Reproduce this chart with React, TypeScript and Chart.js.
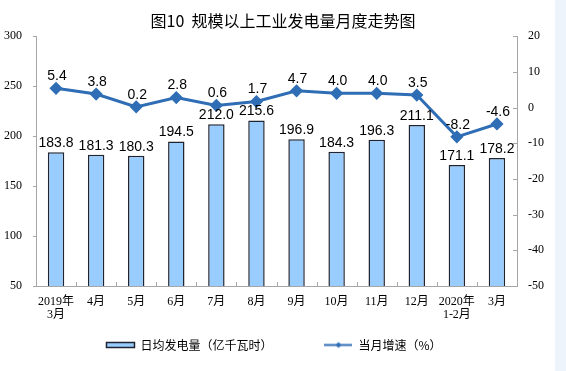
import React, { useEffect, useRef } from "react";
import { Chart, registerables } from "chart.js";

Chart.register(...registerables);

const categories: (string | string[])[] = [
  ["2019年", "3月"], "4月", "5月", "6月", "7月", "8月", "9月", "10月", "11月", "12月", ["2020年", "1-2月"], "3月",
];
const dailyOutput = [183.8, 181.3, 180.3, 194.5, 212.0, 215.6, 196.9, 184.3, 196.3, 211.1, 171.1, 178.2];
const monthlyGrowth = [5.4, 3.8, 0.2, 2.8, 0.6, 1.7, 4.7, 4.0, 4.0, 3.5, -8.2, -4.6];
const leftTicks = { min: 50, max: 300, step: 50 };
const rightTicks = { min: -50, max: 20, step: 10 };
const titleText = "图10  规模以上工业发电量月度走势图";
const seriesNames = ["日均发电量（亿千瓦时）", "当月增速（%）"];

const AXIS = "#a6a6a6";
const BAR_FILL = "#99ccff";
const BAR_BORDER = "#1f2430";
const LINE = "#2f6db5";
const SERIF = '"Liberation Serif", "Times New Roman", "Noto Sans CJK SC", serif';
const SANS_CJK = '"Noto Sans CJK SC", "Noto Sans", sans-serif';
const LABEL_FONT = '14px "Liberation Sans", Arial, sans-serif';

const valueLabels = {
  id: "valueLabels",
  afterDatasetsDraw(chart: any) {
    const ctx = chart.ctx;
    ctx.save();
    ctx.font = LABEL_FONT;
    ctx.fillStyle = "#000";
    ctx.textAlign = "center";
    ctx.textBaseline = "middle";
    chart.getDatasetMeta(0).data.forEach((el: any, i: number) => {
      const { x, y } = el.getProps(["x", "y"], true);
      ctx.fillText(dailyOutput[i].toFixed(1), x, y - 9);
    });
    chart.getDatasetMeta(1).data.forEach((el: any, i: number) => {
      const { x, y } = el.getProps(["x", "y"], true);
      ctx.fillText(monthlyGrowth[i].toFixed(1), x + 1, y - 12);
    });
    ctx.restore();
  },
};

const innerTicks = {
  id: "innerTicks",
  afterDraw(chart: any) {
    const { ctx, chartArea, scales } = chart;
    ctx.save();
    ctx.strokeStyle = AXIS;
    ctx.lineWidth = 1;
    const xs = scales.x;
    for (let i = 1; i < categories.length; i++) {
      const px = Math.round(xs.getPixelForValue(i - 0.5)) + 0.5;
      ctx.beginPath();
      ctx.moveTo(px, chartArea.bottom);
      ctx.lineTo(px, chartArea.bottom - 4);
      ctx.stroke();
    }
    scales.y1.ticks.forEach((t: any) => {
      const py = Math.round(scales.y1.getPixelForValue(t.value)) + 0.5;
      ctx.beginPath();
      ctx.moveTo(chartArea.right, py);
      ctx.lineTo(chartArea.right - 4, py);
      ctx.stroke();
    });
    scales.y.ticks.forEach((t: any) => {
      const py = Math.round(scales.y.getPixelForValue(t.value)) + 0.5;
      ctx.beginPath();
      ctx.moveTo(chartArea.left, py);
      ctx.lineTo(chartArea.left - 3, py);
      ctx.stroke();
    });
    ctx.restore();
  },
};

export default function App() {
  const ref = useRef<HTMLCanvasElement>(null);

  useEffect(() => {
    if (!ref.current) return;
    const icon = document.createElement("canvas");
    icon.width = 28;
    icon.height = 9;
    const ic = icon.getContext("2d")!;
    ic.strokeStyle = LINE;
    ic.lineWidth = 2;
    ic.beginPath();
    ic.moveTo(0, 4.5);
    ic.lineTo(28, 4.5);
    ic.stroke();
    ic.fillStyle = LINE;
    ic.beginPath();
    ic.moveTo(14, 1.5);
    ic.lineTo(17, 4.5);
    ic.lineTo(14, 7.5);
    ic.lineTo(11, 4.5);
    ic.closePath();
    ic.fill();

    const chart = new Chart(ref.current, {
      type: "bar",
      data: {
        labels: categories,
        datasets: [
          {
            type: "bar",
            label: seriesNames[0],
            data: dailyOutput,
            yAxisID: "y",
            backgroundColor: BAR_FILL,
            borderColor: BAR_BORDER,
            borderWidth: 1.5,
            barPercentage: 0.41,
            categoryPercentage: 1,
            order: 1,
          },
          {
            type: "line",
            label: seriesNames[1],
            data: monthlyGrowth,
            yAxisID: "y1",
            borderColor: LINE,
            backgroundColor: LINE,
            borderWidth: 3,
            pointStyle: "rectRot",
            pointRadius: 4.5,
            pointBackgroundColor: LINE,
            pointBorderColor: LINE,
            tension: 0,
            order: 0,
          } as any,
        ],
      },
      options: {
        responsive: false,
        animation: false,
        layout: { padding: { left: 0, right: 0, top: 0, bottom: 10 } },
        plugins: {
          title: {
            display: true,
            text: titleText,
            color: "#000",
            font: { size: 16, family: SANS_CJK, weight: "normal" },
            padding: { top: 11, bottom: 6 },
          },
          legend: {
            position: "bottom",
            labels: {
              usePointStyle: true,
              pointStyleWidth: 28,
              boxHeight: 5,
              padding: 10,
              color: "#000",
              font: { size: 12, family: SANS_CJK },
              generateLabels: () => [
                {
                  text: seriesNames[0] + "\u3000\u3000\u3000\u3000",
                  fillStyle: BAR_FILL,
                  strokeStyle: BAR_BORDER,
                  lineWidth: 1.5,
                  pointStyle: "rect",
                  hidden: false,
                  datasetIndex: 0,
                },
                {
                  text: seriesNames[1] + "\u3000\u3000",
                  fillStyle: LINE,
                  strokeStyle: LINE,
                  lineWidth: 0,
                  pointStyle: icon as any,
                  hidden: false,
                  datasetIndex: 1,
                },
              ],
            },
          },
          tooltip: { enabled: false },
        },
        scales: {
          x: {
            offset: true,
            grid: { display: false, drawTicks: false },
            border: { display: true, color: AXIS },
            ticks: {
              color: "#000",
              font: { size: 12, family: SERIF, lineHeight: 1.05 },
              padding: 10,
              maxRotation: 0,
              autoSkip: false,
            },
            afterFit: (s: any) => {
              s.height = 43;
            },
          },
          y: {
            position: "left",
            min: leftTicks.min,
            max: leftTicks.max,
            grid: { display: false, drawTicks: false },
            border: { display: true, color: AXIS },
            ticks: { stepSize: leftTicks.step, color: "#000", font: { size: 12, family: SERIF }, padding: 14 },
            afterFit: (s: any) => {
              s.width = 36;
            },
          },
          y1: {
            position: "right",
            min: rightTicks.min,
            max: rightTicks.max,
            grid: { display: false, drawTicks: false },
            border: { display: true, color: AXIS },
            ticks: { stepSize: rightTicks.step, color: "#000", font: { size: 12, family: SERIF }, padding: 11 },
            afterFit: (s: any) => {
              s.width = 49;
            },
          },
        },
      },
      plugins: [valueLabels, innerTicks],
    });
    return () => chart.destroy();
  }, []);

  return (
    <div style={{ position: "absolute", left: 0, top: 0, width: 566, height: 371, background: "#fff" }}>
      <div style={{ position: "absolute", left: 555, top: 0, width: 11, height: 371, background: "#eef4fc" }} />
      <canvas ref={ref} width={566} height={371} style={{ position: "absolute", left: 0, top: 0, width: 566, height: 371 }} />
    </div>
  );
}
